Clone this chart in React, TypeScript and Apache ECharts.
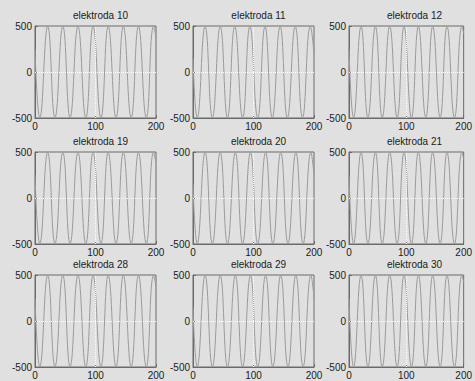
import React, { useEffect, useRef } from "react";
import * as echarts from "echarts";

const titles = [
  "elektroda 10", "elektroda 11", "elektroda 12",
  "elektroda 19", "elektroda 20", "elektroda 21",
  "elektroda 28", "elektroda 29", "elektroda 30",
];

const xTicks = [0, 100, 200];
const yTicks = [-500, 0, 500];
const gridX = [100];
const gridY = [0];

const e10 = [[0, 250], [8, -495], [21, 495], [33, -495], [46, 495], [58, -495], [71, 495], [84, -495], [96, 495], [109, -495], [121, 495], [134, -495], [146, 495], [159, -495], [171, 495], [184, -495], [196, 495], [200, 380]];
const e11 = [[0, 150], [7, -495], [20, 495], [32, -495], [45, 495], [57, -495], [69, 495], [82, -495], [94, 495], [107, -495], [119, 495], [131, -495], [144, 495], [156, -495], [169, 495], [181, -495], [194, 495], [200, 200]];
const e12 = [[0, 250], [8, -495], [21, 495], [33, -495], [46, 495], [58, -495], [71, 495], [84, -495], [96, 495], [109, -495], [121, 495], [134, -495], [146, 495], [159, -495], [171, 495], [184, -495], [197, 495], [200, 420]];
const e19 = [[0, 250], [8, -495], [21, 495], [33, -495], [46, 495], [58, -495], [71, 495], [84, -495], [96, 495], [109, -495], [121, 495], [134, -495], [146, 495], [159, -495], [171, 495], [184, -495], [196, 495], [200, 380]];
const e20 = [[0, 150], [7, -495], [20, 495], [32, -495], [45, 495], [57, -495], [70, 495], [82, -495], [95, 495], [107, -495], [120, 495], [132, -495], [145, 495], [157, -495], [170, 495], [182, -495], [195, 495], [200, 250]];
const e21 = [[0, 250], [8, -495], [21, 495], [33, -495], [46, 495], [58, -495], [71, 495], [84, -495], [96, 495], [109, -495], [121, 495], [134, -495], [146, 495], [159, -495], [171, 495], [184, -495], [197, 495], [200, 420]];
const e28 = [[0, 250], [8, -495], [21, 495], [33, -495], [46, 495], [58, -495], [71, 495], [84, -495], [96, 495], [109, -495], [121, 495], [134, -495], [146, 495], [159, -495], [171, 495], [184, -495], [196, 495], [200, 380]];
const e29 = [[0, 150], [7, -495], [20, 495], [32, -495], [45, 495], [57, -495], [70, 495], [82, -495], [95, 495], [107, -495], [120, 495], [132, -495], [145, 495], [157, -495], [170, 495], [182, -495], [195, 495], [200, 250]];
const e30 = [[0, 250], [8, -495], [21, 495], [33, -495], [46, 495], [58, -495], [71, 495], [84, -495], [96, 495], [109, -495], [121, 495], [134, -495], [146, 495], [159, -495], [171, 495], [184, -495], [197, 495], [200, 420]];

const seriesData = [e10, e11, e12, e19, e20, e21, e28, e29, e30];

const gridLefts = [35, 193, 349];
const gridTops = [26, 152, 275];
const gridW = 121;
const gridH = 92;

export default function App() {
  const ref = useRef<HTMLDivElement>(null);
  useEffect(() => {
    if (!ref.current) return;
    const chart = echarts.init(ref.current, null, { renderer: "svg" });
    const font = "Liberation Sans, Arial, sans-serif";
    const grids: any[] = [];
    const xAxes: any[] = [];
    const yAxes: any[] = [];
    const series: any[] = [];
    const title: any[] = [];
    seriesData.forEach((d, i) => {
      const r = Math.floor(i / 3);
      const c = i % 3;
      grids.push({
        left: gridLefts[c], top: gridTops[r], width: gridW, height: gridH,
        show: true, borderColor: "#6a6a6a", borderWidth: 1, backgroundColor: "transparent",
      });
      xAxes.push({
        type: "value", gridIndex: i, min: xTicks[0], max: xTicks[xTicks.length - 1], interval: 100,
        axisLine: { show: true, onZero: false, lineStyle: { color: "#6a6a6a" } },
        axisTick: { show: true, inside: true, length: 3, lineStyle: { color: "#6a6a6a" } },
        splitLine: { show: false },
        axisLabel: { color: "#202020", fontSize: 10, fontFamily: font, margin: 3 },
      });
      yAxes.push({
        type: "value", gridIndex: i, min: yTicks[0], max: yTicks[yTicks.length - 1], interval: 500,
        axisLine: { show: true, onZero: false, lineStyle: { color: "#6a6a6a" } },
        axisTick: { show: true, inside: true, length: 3, lineStyle: { color: "#6a6a6a" } },
        splitLine: { show: false },
        axisLabel: { color: "#202020", fontSize: 10, fontFamily: font, margin: 3 },
      });
      series.push({
        type: "line", xAxisIndex: i, yAxisIndex: i, data: d, smooth: 0.5,
        symbol: "none", lineStyle: { color: "#9a9a9a", width: 1 },
        z: 2,
      });
      series.push({
        type: "line", xAxisIndex: i, yAxisIndex: i, data: [], symbol: "none",
        z: 3,
        markLine: {
          silent: true, symbol: ["none", "none"], label: { show: false },
          lineStyle: { color: "#ffffff", type: "dotted", width: 1, opacity: 1 },
          emphasis: { disabled: true },
          data: [...gridX.map((v) => ({ xAxis: v })), ...gridY.map((v) => ({ yAxis: v }))],
        },
      });
      title.push({
        text: titles[i],
        left: gridLefts[c] + gridW / 2,
        top: gridTops[r] - 21,
        textAlign: "center",
        textStyle: { fontSize: 10, fontWeight: "normal", color: "#202020", fontFamily: font },
      });
    });
    chart.setOption({
      animation: false,
      backgroundColor: "#e0e0e0",
      title,
      grid: grids,
      xAxis: xAxes,
      yAxis: yAxes,
      series,
    });
    return () => chart.dispose();
  }, []);
  return <div ref={ref} style={{ width: 475, height: 381, position: "absolute", left: 0, top: 0 }} />;
}
